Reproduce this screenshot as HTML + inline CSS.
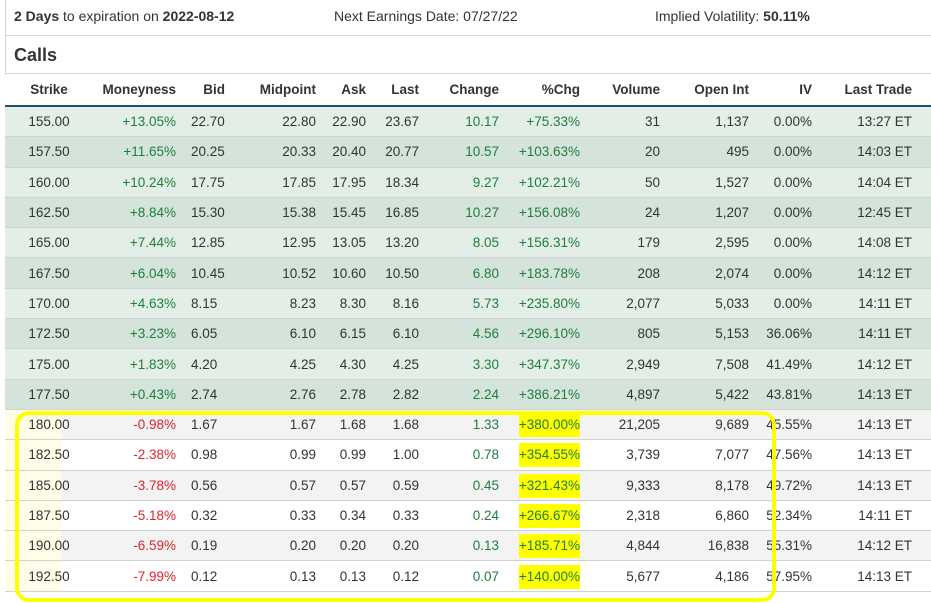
<!DOCTYPE html>
<html><head><style>
body{margin:0;width:931px;height:603px;background:#fff;font-family:"Liberation Sans",sans-serif;color:#333;position:relative;overflow:hidden}
.top{position:absolute;left:5px;top:0;width:926px;height:35px;border-bottom:1px solid #d5d5d5;border-left:1px solid #d5d5d5;font-size:14px}
.top span{position:absolute;top:8px}
.calls{position:absolute;left:5px;top:36px;width:926px;height:37px;border-bottom:1px solid #d5d5d5;border-left:1px solid #d5d5d5}
.calls b{position:absolute;left:8px;top:9px;font-size:18px}
table{position:absolute;left:5px;top:74px;border-collapse:collapse;table-layout:fixed;font-size:13.5px}
th{height:31px;border-bottom:2px solid #1f4e79;font-weight:bold;text-align:right;padding:0 10px 0 0;background:#fff;color:#333}
td{height:29.3px;padding:0 10px 0 0;text-align:right;border-bottom:1px solid #d2d2d2;white-space:nowrap}
td:first-child,th:first-child{text-align:center;padding:0}
td:nth-child(3){text-align:left;padding-left:5px}
th:nth-child(3){padding-right:15px}
tr.a td{background:#e3efe6}tr.b td{background:#d4e4da}
tr.c td{background:#f3f3f3}tr.d td{background:#fff}
tr.c td:first-child{background:linear-gradient(to right,#fefee8 56px,#f3f3f3 56px)}
tr.d td:first-child{background:linear-gradient(to right,#fefee8 56px,#fff 56px)}
.g{color:#1e7e3e}.r{color:#d9262c}
.hl{background:#ffff00;padding:4px 0 5px}
.box{position:absolute;left:15px;top:411px;width:753px;height:183px;border:4px solid #ffff00;border-radius:14px}
</style></head><body>
<div class="top"><span style="left:8px"><b>2 Days</b> to expiration on <b>2022-08-12</b></span><span style="left:328px">Next Earnings Date: 07/27/22</span><span style="left:649px">Implied Volatility: <b>50.11%</b></span></div>
<div class="calls"><b>Calls</b></div>
<table>
<colgroup><col style="width:88px"><col style="width:93px"><col style="width:54px"><col style="width:86px"><col style="width:50px"><col style="width:53px"><col style="width:80px"><col style="width:81px"><col style="width:80px"><col style="width:89px"><col style="width:63px"><col style="width:109px"></colgroup>
<tr><th>Strike</th><th>Moneyness</th><th>Bid</th><th>Midpoint</th><th>Ask</th><th>Last</th><th>Change</th><th>%Chg</th><th>Volume</th><th>Open Int</th><th>IV</th><th style="padding-right:19px">Last Trade</th></tr>
<tr class="a"><td>155.00</td><td class="g">+13.05%</td><td>22.70</td><td>22.80</td><td>22.90</td><td>23.67</td><td class="g">10.17</td><td class="g">+75.33%</td><td>31</td><td>1,137</td><td>0.00%</td><td style="padding-right:19px">13:27 ET</td></tr>
<tr class="b"><td>157.50</td><td class="g">+11.65%</td><td>20.25</td><td>20.33</td><td>20.40</td><td>20.77</td><td class="g">10.57</td><td class="g">+103.63%</td><td>20</td><td>495</td><td>0.00%</td><td style="padding-right:19px">14:03 ET</td></tr>
<tr class="a"><td>160.00</td><td class="g">+10.24%</td><td>17.75</td><td>17.85</td><td>17.95</td><td>18.34</td><td class="g">9.27</td><td class="g">+102.21%</td><td>50</td><td>1,527</td><td>0.00%</td><td style="padding-right:19px">14:04 ET</td></tr>
<tr class="b"><td>162.50</td><td class="g">+8.84%</td><td>15.30</td><td>15.38</td><td>15.45</td><td>16.85</td><td class="g">10.27</td><td class="g">+156.08%</td><td>24</td><td>1,207</td><td>0.00%</td><td style="padding-right:19px">12:45 ET</td></tr>
<tr class="a"><td>165.00</td><td class="g">+7.44%</td><td>12.85</td><td>12.95</td><td>13.05</td><td>13.20</td><td class="g">8.05</td><td class="g">+156.31%</td><td>179</td><td>2,595</td><td>0.00%</td><td style="padding-right:19px">14:08 ET</td></tr>
<tr class="b"><td>167.50</td><td class="g">+6.04%</td><td>10.45</td><td>10.52</td><td>10.60</td><td>10.50</td><td class="g">6.80</td><td class="g">+183.78%</td><td>208</td><td>2,074</td><td>0.00%</td><td style="padding-right:19px">14:12 ET</td></tr>
<tr class="a"><td>170.00</td><td class="g">+4.63%</td><td>8.15</td><td>8.23</td><td>8.30</td><td>8.16</td><td class="g">5.73</td><td class="g">+235.80%</td><td>2,077</td><td>5,033</td><td>0.00%</td><td style="padding-right:19px">14:11 ET</td></tr>
<tr class="b"><td>172.50</td><td class="g">+3.23%</td><td>6.05</td><td>6.10</td><td>6.15</td><td>6.10</td><td class="g">4.56</td><td class="g">+296.10%</td><td>805</td><td>5,153</td><td>36.06%</td><td style="padding-right:19px">14:11 ET</td></tr>
<tr class="a"><td>175.00</td><td class="g">+1.83%</td><td>4.20</td><td>4.25</td><td>4.30</td><td>4.25</td><td class="g">3.30</td><td class="g">+347.37%</td><td>2,949</td><td>7,508</td><td>41.49%</td><td style="padding-right:19px">14:12 ET</td></tr>
<tr class="b"><td>177.50</td><td class="g">+0.43%</td><td>2.74</td><td>2.76</td><td>2.78</td><td>2.82</td><td class="g">2.24</td><td class="g">+386.21%</td><td>4,897</td><td>5,422</td><td>43.81%</td><td style="padding-right:19px">14:13 ET</td></tr>
<tr class="c"><td>180.00</td><td class="r">-0.98%</td><td>1.67</td><td>1.67</td><td>1.68</td><td>1.68</td><td class="g">1.33</td><td class="g"><span class="hl">+380.00%</span></td><td>21,205</td><td>9,689</td><td>45.55%</td><td style="padding-right:19px">14:13 ET</td></tr>
<tr class="d"><td>182.50</td><td class="r">-2.38%</td><td>0.98</td><td>0.99</td><td>0.99</td><td>1.00</td><td class="g">0.78</td><td class="g"><span class="hl">+354.55%</span></td><td>3,739</td><td>7,077</td><td>47.56%</td><td style="padding-right:19px">14:13 ET</td></tr>
<tr class="c"><td>185.00</td><td class="r">-3.78%</td><td>0.56</td><td>0.57</td><td>0.57</td><td>0.59</td><td class="g">0.45</td><td class="g"><span class="hl">+321.43%</span></td><td>9,333</td><td>8,178</td><td>49.72%</td><td style="padding-right:19px">14:13 ET</td></tr>
<tr class="d"><td>187.50</td><td class="r">-5.18%</td><td>0.32</td><td>0.33</td><td>0.34</td><td>0.33</td><td class="g">0.24</td><td class="g"><span class="hl">+266.67%</span></td><td>2,318</td><td>6,860</td><td>52.34%</td><td style="padding-right:19px">14:11 ET</td></tr>
<tr class="c"><td>190.00</td><td class="r">-6.59%</td><td>0.19</td><td>0.20</td><td>0.20</td><td>0.20</td><td class="g">0.13</td><td class="g"><span class="hl">+185.71%</span></td><td>4,844</td><td>16,838</td><td>55.31%</td><td style="padding-right:19px">14:12 ET</td></tr>
<tr class="d"><td>192.50</td><td class="r">-7.99%</td><td>0.12</td><td>0.13</td><td>0.13</td><td>0.12</td><td class="g">0.07</td><td class="g"><span class="hl">+140.00%</span></td><td>5,677</td><td>4,186</td><td>57.95%</td><td style="padding-right:19px">14:13 ET</td></tr>
</table>
<div class="box"></div>
</body></html>
